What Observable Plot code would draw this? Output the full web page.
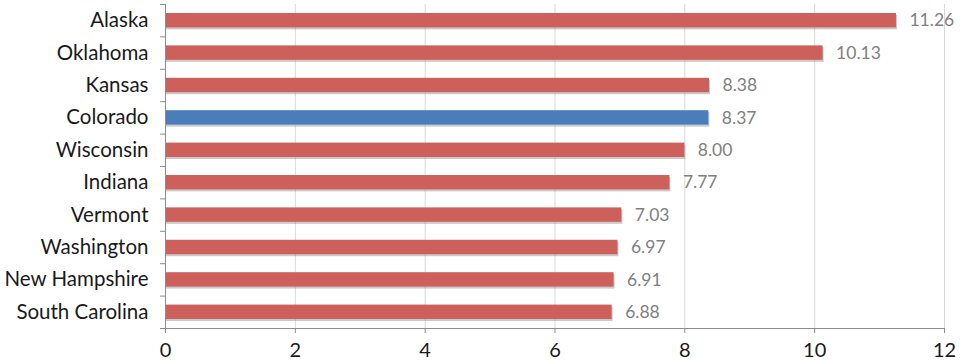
<!DOCTYPE html>
<html>
<head>
<meta charset="utf-8">
<script src="https://cdn.jsdelivr.net/npm/d3@7"></script>
<script src="https://cdn.jsdelivr.net/npm/@observablehq/plot@0.6"></script>
<style>
  html, body { margin: 0; padding: 0; background: #fff; }
</style>
</head>
<body>
<div id="chart"></div>
<script>
const states = ["Alaska", "Oklahoma", "Kansas", "Colorado", "Wisconsin", "Indiana", "Vermont", "Washington", "New Hampshire", "South Carolina"];
const values = [11.26, 10.13, 8.38, 8.37, 8.00, 7.77, 7.03, 6.97, 6.91, 6.88];
const highlight = "Colorado";
const xTicks = [0, 2, 4, 6, 8, 10, 12];

const data = states.map((s, i) => ({state: s, value: values[i], i, hi: s === highlight}));
const rowEdges = d3.range(states.length + 1);

const chart = Plot.plot({
  width: 960,
  height: 361,
  marginLeft: 165,
  marginRight: 16,
  marginTop: 4,
  marginBottom: 33,
  x: {type: "linear", domain: [0, 12]},
  y: {type: "linear", domain: [0, states.length], reverse: true},
  style: {fontFamily: "Lato, 'Open Sans', sans-serif", background: "#fff"},
  marks: [
    Plot.gridX(xTicks, {stroke: "#d9d9d9", strokeOpacity: 1}),
    Plot.rect(data, {x1: 0, x2: "value", y1: "i", y2: d => d.i + 1, insetTop: 9, insetBottom: 9, fill: "#8a8a8a", fillOpacity: 0.45, dx: 1, dy: 2}),
    Plot.rect(data, {x1: 0, x2: "value", y1: "i", y2: d => d.i + 1, insetTop: 9, insetBottom: 9, fill: d => d.hi ? "#4a7ebb" : "#cd605b"}),
    Plot.text(data, {x: "value", y: d => d.i + 0.5, text: d => d.value.toFixed(2), textAnchor: "start", dx: 13, fill: "#808080", fontSize: 17.5}),
    Plot.text(data, {x: 0, y: d => d.i + 0.5, text: "state", textAnchor: "end", dx: -17, fill: "#1a1a1a", fontSize: 20.5}),
    Plot.ruleX([0], {stroke: "#8c8c8c"}),
    Plot.ruleY([states.length], {stroke: "#8c8c8c"}),
    Plot.axisY({ticks: rowEdges, tickFormat: () => "", tickSize: 5, stroke: "#8c8c8c", label: null}),
    Plot.axisX({ticks: xTicks, tickSize: 5, tickPadding: 9, fontSize: 20, stroke: "#8c8c8c", fill: "#1a1a1a", label: null})
  ]
});
document.getElementById("chart").appendChild(chart);
</script>
</body>
</html>
